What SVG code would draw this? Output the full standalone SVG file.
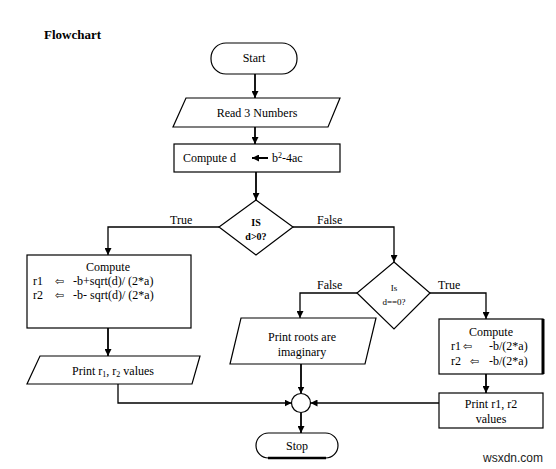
<svg xmlns="http://www.w3.org/2000/svg" width="556" height="469" viewBox="0 0 556 469" font-family="Liberation Serif, Times New Roman, serif">
<defs>
<style>
.s{fill:#fff;stroke:#000;stroke-width:1.2}
.t{font-family:'Liberation Serif','Times New Roman',serif;font-size:12px;fill:#000}
.c{text-anchor:middle}
.b{font-weight:bold}
.sym{font-family:'DejaVu Sans',sans-serif;font-size:11px;fill:#000}
.ln{fill:none;stroke:#000;stroke-width:1.3}
.lk{fill:none;stroke:#000;stroke-width:1.8}
</style>
<marker id="ah" viewBox="0 0 10 10" refX="10" refY="5" markerWidth="7" markerHeight="7" markerUnits="userSpaceOnUse" orient="auto">
<path d="M0,0 L10,5 L0,10 z" fill="#000"/>
</marker>
</defs>
<rect width="556" height="469" fill="#fff"/>
<text x="44" y="39" class="t b" font-family="Liberation Serif, serif" style="font-size:13px">Flowchart</text>

<g id="connectors">
<path class="lk" d="M255,74 V98" marker-end="url(#ah)"/>
<path class="lk" d="M255,127 V144" marker-end="url(#ah)"/>
<path class="lk" d="M256,172 V200" marker-end="url(#ah)"/>
<path class="ln" d="M219,227 H108 V255" marker-end="url(#ah)"/>
<path class="ln" d="M293,227 H394 V262" marker-end="url(#ah)"/>
<path class="ln" d="M357,293 H300 V318" marker-end="url(#ah)"/>
<path class="ln" d="M430,293 H486 V319" marker-end="url(#ah)"/>
<path class="lk" d="M108,328 V356" marker-end="url(#ah)"/>
<path class="ln" d="M118,384 V403 H291.5" marker-end="url(#ah)"/>
<path class="lk" d="M301,364 V393.5" marker-end="url(#ah)"/>
<path class="ln" d="M439,403 H310.5" marker-end="url(#ah)"/>
<path class="lk" d="M301,412.5 V433" marker-end="url(#ah)"/>
<path class="lk" d="M486,374 V393" marker-end="url(#ah)"/>
<g font-family="Liberation Serif, serif">
<text x="170" y="224" class="t">True</text>
<text x="317" y="224" class="t">False</text>
<text x="317" y="289" class="t">False</text>
<text x="438" y="289" class="t">True</text>
</g>
</g>

<g id="start" font-family="Liberation Serif, serif">
<rect class="s" x="211" y="43" width="86" height="31" rx="15"/>
<text x="254" y="62" class="t c">Start</text>
</g>

<g id="read" font-family="Liberation Serif, serif">
<polygon class="s" points="186,98 340,98 328,127 173,127"/>
<text x="257" y="117" class="t c">Read 3 Numbers</text>
</g>

<g id="computeD" font-family="Liberation Serif, serif">
<rect class="s" x="174" y="144" width="166" height="28"/>
<text x="183" y="162" class="t">Compute d</text>
<path d="M268,158 H252" stroke="#000" stroke-width="2" marker-end="url(#ah)"/>
<text x="272" y="162" class="t">b<tspan font-size="8" dy="-4">2</tspan><tspan dy="4">-4ac</tspan></text>
</g>

<g id="decision1" font-family="Liberation Serif, serif">
<polygon class="s" points="256,200 293,227 256,255 219,227"/>
<text x="256" y="226" class="t c b" style="font-size:10px">IS</text>
<text x="256" y="240" class="t c b" style="font-size:10px">d&gt;0?</text>
</g>

<g id="computeLeft" font-family="Liberation Serif, serif">
<rect class="s" x="27" y="255" width="164" height="73"/>
<text x="108" y="271" class="t c">Compute</text>
<text x="33" y="285" class="t">r1</text>
<text x="55" y="285" class="sym">⇦</text>
<text x="73" y="285" class="t">-b+sqrt(d)/ (2*a)</text>
<text x="33" y="299" class="t">r2</text>
<text x="55" y="299" class="sym">⇦</text>
<text x="73" y="299" class="t">-b- sqrt(d)/ (2*a)</text>
</g>

<g id="printLeft" font-family="Liberation Serif, serif">
<polygon class="s" points="40,356 200,356 192,384 27,384"/>
<text x="113" y="375" class="t c">Print r<tspan font-size="8" dy="2">1</tspan><tspan dy="-2">, r</tspan><tspan font-size="8" dy="2">2</tspan><tspan dy="-2"> values</tspan></text>
</g>

<g id="decision2" font-family="Liberation Serif, serif">
<polygon class="s" points="394,262 430,293 394,329 357,293"/>
<text x="394" y="291" class="t c" style="font-size:9px">Is</text>
<text x="394" y="305" class="t c" style="font-size:9px">d==0?</text>
</g>

<g id="printRoots" font-family="Liberation Serif, serif">
<polygon class="s" points="241,318 376,318 365,364 230,364"/>
<text x="302" y="341" class="t c">Print roots are</text>
<text x="302" y="356" class="t c">imaginary</text>
</g>

<g id="computeRight" font-family="Liberation Serif, serif">
<rect class="s" x="439" y="319" width="104" height="55"/>
<line x1="543" y1="319" x2="543" y2="374" stroke="#000" stroke-width="3"/>
<text x="491" y="336" class="t c">Compute</text>
<text x="451" y="350" class="t">r1</text>
<text x="463" y="350" class="sym">⇦</text>
<text x="489" y="350" class="t">-b/(2*a)</text>
<text x="451" y="365" class="t">r2</text>
<text x="470" y="365" class="sym">⇦</text>
<text x="489" y="365" class="t">-b/(2*a)</text>
</g>

<g id="printRight" font-family="Liberation Serif, serif">
<rect class="s" x="439" y="393" width="104" height="35"/>
<text x="491" y="408" class="t c">Print r1, r2</text>
<text x="491" y="423" class="t c">values</text>
</g>

<g id="connector">
<circle class="s" cx="301" cy="403" r="9.5"/>
</g>

<g id="stop" font-family="Liberation Serif, serif">
<rect class="s" x="256" y="433" width="82" height="25" rx="12.5"/>
<line x1="268" y1="458" x2="326" y2="458" stroke="#000" stroke-width="2.5"/>
<text x="297" y="450" class="t c">Stop</text>
</g>

<text x="483" y="462" font-family="Liberation Sans, Arial, sans-serif" font-size="12" fill="#222">wsxdn.com</text>
</svg>
